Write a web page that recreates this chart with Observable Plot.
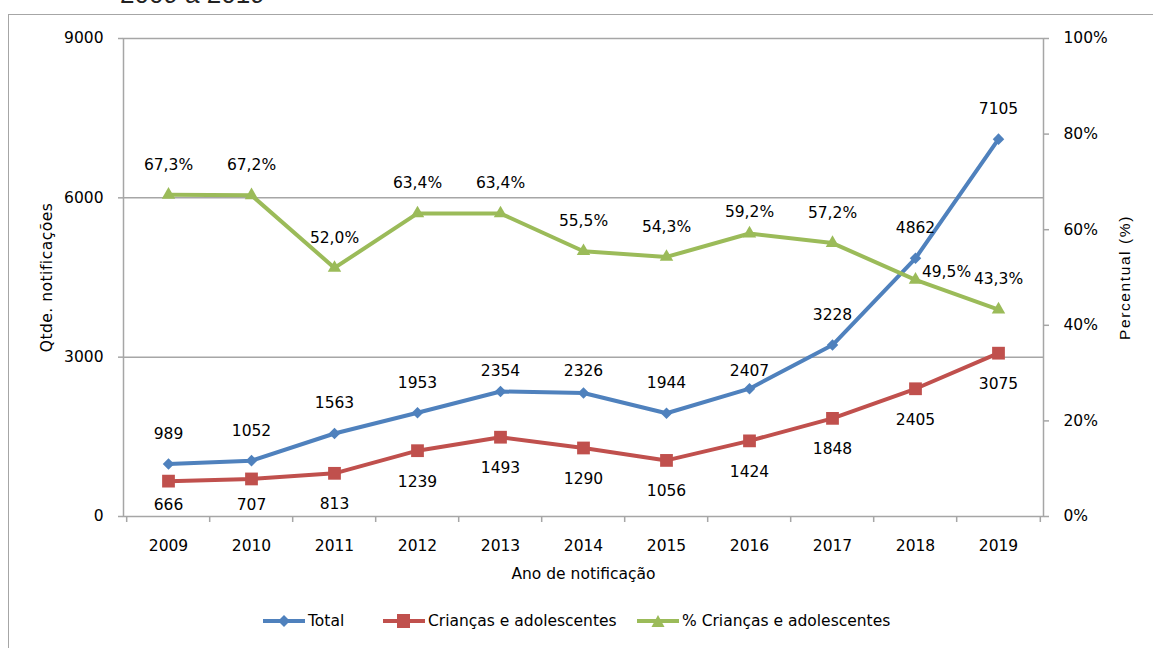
<!DOCTYPE html>
<html><head><meta charset="utf-8">
<script src="https://cdn.jsdelivr.net/npm/d3@7"></script>
<script src="https://cdn.jsdelivr.net/npm/@observablehq/plot@0.6"></script>
<style>
html,body{margin:0;padding:0;background:#fff;}
body{width:1153px;height:648px;overflow:hidden;position:relative;font-family:"DejaVu Sans",sans-serif;}
#frame{position:absolute;left:8px;top:14px;width:1400px;height:900px;border-left:1.5px solid #a6a6a6;border-top:1.5px solid #a6a6a6;box-sizing:border-box;}
#title{position:absolute;left:120px;top:-19px;font:26px "Liberation Sans",Arial,sans-serif;color:#222;white-space:nowrap;line-height:1;}
#chart{position:absolute;left:0;top:0;}
.leg{position:absolute;top:610px;height:22px;display:flex;align-items:center;font:15.5px "DejaVu Sans",sans-serif;color:#000;white-space:nowrap;}
.leg svg{display:block;margin-right:3px;}
</style>
</head><body>
<div id="frame"></div>
<div id="title">2009 a 2019</div>
<div id="chart"></div>
<div id="legend"></div>
<script>
// ---- data ----
const years = ["2009","2010","2011","2012","2013","2014","2015","2016","2017","2018","2019"];
const total = [989, 1052, 1563, 1953, 2354, 2326, 1944, 2407, 3228, 4862, 7105];
const criancas = [666, 707, 813, 1239, 1493, 1290, 1056, 1424, 1848, 2405, 3075];
const percentual = [67.3, 67.2, 52.0, 63.4, 63.4, 55.5, 54.3, 59.2, 57.2, 49.5, 43.3];
const leftTicks = [0, 3000, 6000, 9000];
const rightTicks = [0, 20, 40, 60, 80, 100];
const seriesNames = ["Total", "Crianças e adolescentes", "% Crianças e adolescentes"];
const xLabel = "Ano de notificação";
const yLabel = "Qtde. notificações";
const y2Label = "Percentual (%)";

// ---- layout / style ----
const W = 1153, H = 600, mT = 38, mB = 84, mL = 123, mR = 110;
const YMAX = 9000;
const k = YMAX / (H - mT - mB); // data units per pixel
const step = (W - mL - mR) / years.length;
const blue = "#4F81BD", red = "#C0504D", green = "#9BBB59", grid = "#a6a6a6";
const font = "DejaVu Sans, sans-serif";
const toLeft = p => p / 100 * YMAX;

const rows = years.map((y, i) => ({year: y, total: total[i], criancas: criancas[i], pct: percentual[i], pctL: toLeft(percentual[i])}));

function above(v) {
  let c = v + 30 * k;
  for (const g of [3000, 6000]) if (Math.abs(c - g) < 12 * k && v < g) c = g - 14 * k;
  return c;
}
function below(v) {
  return Math.max(v - 31 * k, 11 * k);
}
const fmtPct = p => p.toFixed(1).replace(".", ",") + "%";

const chart = Plot.plot({
  width: W, height: H,
  marginTop: mT, marginBottom: mB, marginLeft: mL, marginRight: mR,
  style: {fontFamily: font, fontSize: "15.5px", color: "#000", background: "transparent"},
  x: {type: "point", domain: years, padding: 0.5},
  y: {domain: [0, YMAX]},
  marks: [
    Plot.ruleY([3000, 6000], {stroke: grid, strokeWidth: 1.5}),
    Plot.frame({stroke: grid, strokeWidth: 1.5}),
    // category boundary ticks
    Plot.ruleX(years, {x: d => d, y1: 0, y2: 0, dx: -step / 2, insetBottom: -6, stroke: grid, strokeWidth: 1.5}),
    Plot.ruleX(years.slice(-1), {x: d => d, y1: 0, y2: 0, dx: step / 2, insetBottom: -6, stroke: grid, strokeWidth: 1.5}),
    Plot.axisX({tickSize: 0, tickPadding: 23, label: null, fontSize: "15.5px"}),
    Plot.axisY(leftTicks, {anchor: "left", tickSize: 5, tickPadding: 15, stroke: grid, strokeWidth: 1.5, label: null, tickFormat: d => String(d)}),
    Plot.axisY(rightTicks.map(toLeft), {anchor: "right", tickSize: 5, tickPadding: 15, stroke: grid, strokeWidth: 1.5, label: null, tickFormat: d => Math.round(d / YMAX * 100) + "%"}),
    // axis titles
    Plot.text([yLabel], {frameAnchor: "left", textAnchor: "middle", rotate: -90, dx: -76, text: d => d, fontSize: 15.5, fontFamily: font}),
    Plot.text([y2Label], {frameAnchor: "right", textAnchor: "middle", rotate: -90, dx: 82, dy: 0, text: d => d, fontSize: 15.5, fontFamily: "Liberation Sans, Arial, sans-serif"}),
    Plot.text([xLabel], {frameAnchor: "bottom", dy: 62, text: d => d, fontSize: 15.5}),
    // series
    Plot.line(rows, {x: "year", y: "total", stroke: blue, strokeWidth: 4}),
    Plot.dot(rows, {x: "year", y: "total", symbol: "diamond2", r: 5.2, fill: blue, stroke: "none"}),
    Plot.line(rows, {x: "year", y: "criancas", stroke: red, strokeWidth: 4}),
    Plot.dot(rows, {x: "year", y: "criancas", symbol: "square", r: 7.2, fill: red, stroke: "none"}),
    Plot.line(rows, {x: "year", y: "pctL", stroke: green, strokeWidth: 4}),
    Plot.dot(rows, {x: "year", y: "pctL", symbol: "triangle", r: 5, fill: green, stroke: "none"}),
    // data labels
    Plot.text(rows, {x: "year", y: d => above(d.total), text: d => String(d.total), fill: "#000"}),
    Plot.text(rows, {x: "year", y: d => below(d.criancas), text: d => String(d.criancas), fill: "#000"}),
    Plot.text(rows, {filter: d => d.year !== "2018", x: "year", y: d => above(d.pctL), text: d => fmtPct(d.pct), fill: "#000"}),
    Plot.text(rows, {filter: d => d.year === "2018", x: "year", y: "pctL", dx: 31, dy: -8, text: d => fmtPct(d.pct), fill: "#000"})
  ]
});
// letter spacing for the axis titles (as in the reference)
d3.select(chart).selectAll("text").each(function () {
  if (this.textContent === y2Label) this.style.letterSpacing = "1.6px";
  if (this.textContent === yLabel) this.style.letterSpacing = "0.5px";
});
document.getElementById("chart").appendChild(chart);

// ---- legend ----
const legendDefs = [
  {name: seriesNames[0], color: blue, sym: "diamond", left: 263},
  {name: seriesNames[1], color: red, sym: "square", left: 383},
  {name: seriesNames[2], color: green, sym: "triangle", left: 637}
];
const legend = document.getElementById("legend");
for (const l of legendDefs) {
  const div = document.createElement("div");
  div.className = "leg";
  div.style.left = l.left + "px";
  let marker = "";
  if (l.sym === "diamond") marker = `<path d="M21,5 L27,11 L21,17 L15,11Z" fill="${l.color}"/>`;
  if (l.sym === "square") marker = `<rect x="14" y="4" width="13" height="14" fill="${l.color}"/>`;
  if (l.sym === "triangle") marker = `<path d="M21,5 L27.5,17 L14.5,17Z" fill="${l.color}"/>`;
  div.innerHTML = `<svg width="42" height="22"><line x1="0" y1="11" x2="42" y2="11" stroke="${l.color}" stroke-width="4"/>${marker}</svg><span>${l.name}</span>`;
  legend.appendChild(div);
}
</script>
</body></html>
